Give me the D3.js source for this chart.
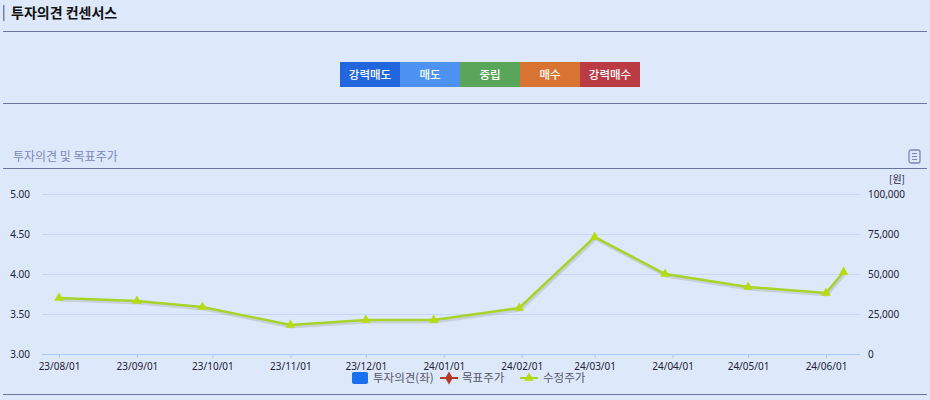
<!DOCTYPE html>
<html><head><meta charset="utf-8">
<script src="https://cdn.jsdelivr.net/npm/d3@7"></script>
<style>
body{margin:0;background:#dde9fb;font-family:"Noto Sans CJK KR","Noto Sans",sans-serif;}
</style></head><body>
<script>
// data
var dates=["2023-08-01","2023-09-01","2023-09-27","2023-11-01","2023-12-01","2023-12-28","2024-01-31","2024-03-01","2024-03-29","2024-05-01","2024-06-01","2024-06-08"];
var prices=[35000,33100,29400,18100,21250,21250,28750,73100,50000,41900,38100,51250];
var tickDates=["2023-08-01","2023-09-01","2023-10-01","2023-11-01","2023-12-01","2024-01-01","2024-02-01","2024-03-01","2024-04-01","2024-05-01","2024-06-01"];
var leftTicks=[3,3.5,4,4.5,5];
var rightTicks=[0,25000,50000,75000,100000];
var buttons=["강력매도","매도","중립","매수","강력매수"];
var btnColors=["#2266dd","#4d92f0","#59a55a","#d97332","#bb3b45"];

var W=930,H=400;
var svg=d3.select("body").append("svg").attr("width",W).attr("height",H);
svg.append("rect").attr("width",W).attr("height",H).attr("fill","#dde9fb");

svg.append("rect").attr("x",3).attr("y",5).attr("width",1.5).attr("height",16).attr("fill","#7880a8");
svg.append("text").attr("x",11).attr("y",18).attr("font-size",14).attr("font-weight","bold").attr("fill","#111").text("투자의견 컨센서스");
svg.append("line").attr("x1",3).attr("x2",927).attr("y1",31.5).attr("y2",31.5).attr("stroke","#6a74a0");

var bx=d3.scaleBand().domain(buttons).range([340,640]);
var bg=svg.selectAll(".btn").data(buttons).enter().append("g");
bg.append("rect").attr("x",d=>bx(d)).attr("y",62).attr("width",bx.bandwidth()).attr("height",25)
  .attr("fill",(d,i)=>btnColors[i]);
bg.append("text").attr("x",d=>bx(d)+bx.bandwidth()/2).attr("y",79).attr("text-anchor","middle")
  .attr("font-size",11.5).attr("font-weight",500).attr("fill","#fff").text(d=>d);
svg.append("line").attr("x1",3).attr("x2",927).attr("y1",103.5).attr("y2",103.5).attr("stroke","#6a74a0");

svg.append("text").attr("x",13).attr("y",161).attr("font-size",12).attr("fill","#7b86b8").text("투자의견 및 목표주가");
svg.append("line").attr("x1",3).attr("x2",927).attr("y1",168.5).attr("y2",168.5).attr("stroke","#6a74a0");
var ic=svg.append("g").attr("transform","translate(909,150)");
ic.append("rect").attr("width",11).attr("height",13).attr("rx",2).attr("fill","none").attr("stroke","#7b86b8").attr("stroke-width",1.3);
[3.5,6.5,9.5].forEach(y=>ic.append("line").attr("x1",3).attr("x2",8).attr("y1",y).attr("y2",y).attr("stroke","#7b86b8"));

var parse=d3.timeParse("%Y-%m-%d");
var x=d3.scaleTime().domain([parse(tickDates[0]),parse(tickDates[10])]).range([59,826]);
var yl=d3.scaleLinear().domain([3,5]).range([354,194]);
var yr=d3.scaleLinear().domain([0,100000]).range([354,194]);

svg.append("g").selectAll("line").data(leftTicks.slice(1)).enter().append("line")
  .attr("x1",42).attr("x2",860).attr("y1",d=>yl(d)+.5).attr("y2",d=>yl(d)+.5).attr("stroke","#c9d7f7");
svg.append("line").attr("x1",42).attr("x2",860).attr("y1",354.5).attr("y2",354.5).attr("stroke","#a9c6f5");

var gl=svg.append("g").attr("transform","translate(33,0)").call(d3.axisLeft(yl).tickValues(leftTicks).tickFormat(d3.format(".2f")).tickSize(0));
var gr=svg.append("g").attr("transform","translate(865,0)").call(d3.axisRight(yr).tickValues(rightTicks).tickFormat(d3.format(",")).tickSize(0));
var gx=svg.append("g").attr("transform","translate(0,354)").call(d3.axisBottom(x).tickValues(tickDates.map(parse)).tickFormat(d3.timeFormat("%y/%m/%d")).tickSize(4));
[gl,gr,gx].forEach(g=>{g.select(".domain").remove();g.selectAll("text").attr("font-size",10).attr("fill","#223").attr("font-family","Noto Sans,sans-serif");g.selectAll("line").attr("stroke","#a9c6f5");});
gl.selectAll("text").attr("dy","0.32em");
gx.selectAll("text").attr("dy","0.9em");
svg.append("text").attr("x",905).attr("y",183).attr("text-anchor","end").attr("font-size",10).attr("fill","#223").text("[원]");

var pts=dates.map((d,i)=>[parse(d),prices[i]]);
var line=d3.line().x(d=>x(d[0])).y(d=>yr(d[1]));
svg.append("path").attr("d",line(pts)).attr("fill","none").attr("stroke","#aaa").attr("stroke-opacity",.4).attr("stroke-width",4).attr("transform","translate(1,1.5)");
svg.append("path").attr("d",line(pts)).attr("fill","none").attr("stroke","#a8d42a").attr("stroke-width",2.5);
var tri=d3.symbol().type(d3.symbolTriangle).size(40);
svg.selectAll(".pt").data(pts).enter().append("path").attr("d",tri)
  .attr("transform",d=>`translate(${x(d[0])},${yr(d[1])})`).attr("fill","#b5dc10");

// legend
var lg=svg.append("g").attr("transform","translate(0,378)");
lg.append("rect").attr("x",352).attr("y",-6).attr("width",16).attr("height",12).attr("rx",2).attr("fill","#1a6ef0");
lg.append("text").attr("x",373).attr("y",4).attr("font-size",11.5).attr("fill","#556").text("투자의견(좌)");
lg.append("line").attr("x1",440).attr("x2",458).attr("stroke","#b33a2a").attr("stroke-width",2);
lg.append("path").attr("d",d3.symbol().type(d3.symbolDiamond).size(50)).attr("transform","translate(449,0)").attr("fill","#b33a2a");
lg.append("text").attr("x",462).attr("y",4).attr("font-size",11.5).attr("fill","#556").text("목표주가");
lg.append("line").attr("x1",520).attr("x2",538).attr("stroke","#a8d42a").attr("stroke-width",2);
lg.append("path").attr("d",tri).attr("transform","translate(529,0)").attr("fill","#b5dc10");
lg.append("text").attr("x",543).attr("y",4).attr("font-size",11.5).attr("fill","#556").text("수정주가");
svg.append("line").attr("x1",3).attr("x2",927).attr("y1",394.5).attr("y2",394.5).attr("stroke","#6a74a0");
</script>
</body></html>
